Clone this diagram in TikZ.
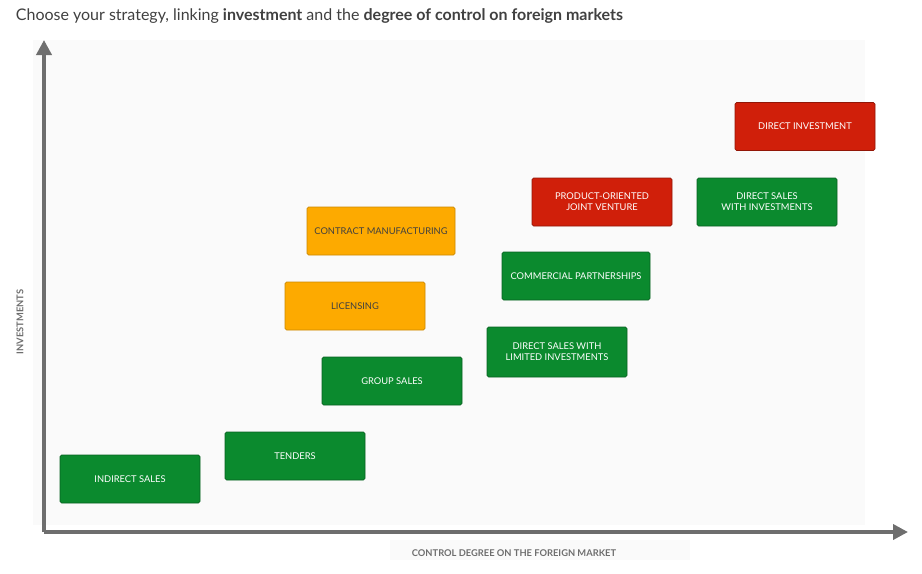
\documentclass[tikz,border=0pt]{standalone}
\usepackage{fontspec}
\setmainfont{Lato}
\usetikzlibrary{arrows.meta}
\definecolor{stgreen}{HTML}{0B8A2E}
\definecolor{stred}{HTML}{D01F0A}
\definecolor{storange}{HTML}{FDAA00}
\definecolor{staxis}{HTML}{6E6E6E}
\newlength{\pxu}
\setlength{\pxu}{0.6pt}
\tikzset{
  box/.style={minimum width=140\pxu, minimum height=48\pxu, inner sep=1pt, align=center,
    font=\fontsize{5.6}{6.6}\selectfont, text=white, rounded corners=1pt},
  green box/.style={box, fill=stgreen, draw=stgreen!70!black},
  red box/.style={box, fill=stred, draw=stred!70!black},
  orange box/.style={box, fill=storange, draw=storange!80!black, text=black!75},
  axis/.style={line width=2.2pt, draw=staxis, -{Triangle[length=9pt,width=9pt]}},
  axislabel/.style={font=\bfseries\fontsize{5.6}{6.6}\selectfont, text=staxis}
}
\begin{document}
\begin{tikzpicture}[x=\pxu, y=-\pxu]
\useasboundingbox (0,0) rectangle (922,573);
\fill[black!2] (33,40) rectangle (865,525);
\fill[black!2] (390,540) rectangle (690,560);
% title
\node[anchor=west, font=\fontsize{9.6}{11}\selectfont, text=black!75] (title) at (10,16)
  {Choose your strategy, linking \textbf{investment} and the \textbf{degree of control on foreign markets}};
% axes
\coordinate (origin) at (44,532);
\coordinate (ytop) at (44,40);
\coordinate (xend) at (908,532);
\draw[axis] (origin) -- (ytop);
\draw[axis] (origin) -- (xend);
\node[axislabel, rotate=90] (ylab) at (20,322) {INVESTMENTS};
\node[axislabel] (xlab) at (514,553) {CONTROL DEGREE ON THE FOREIGN MARKET};
% strategies
\node[red box] (direct) at (805,126.5) {DIRECT INVESTMENT};
\node[red box] (jointventure) at (602,202) {PRODUCT-ORIENTED\\JOINT VENTURE};
\node[green box] (salesinv) at (767,202) {DIRECT SALES\\WITH INVESTMENTS};
\node[orange box, minimum width=148\pxu] (contract) at (381,231) {CONTRACT MANUFACTURING};
\node[green box, minimum width=148\pxu] (commercial) at (576,276) {COMMERCIAL PARTNERSHIPS};
\node[orange box] (licensing) at (355,306) {LICENSING};
\node[green box, minimum height=50\pxu] (saleslimited) at (557,352) {DIRECT SALES WITH\\LIMITED INVESTMENTS};
\node[green box] (group) at (392,381) {GROUP SALES};
\node[green box] (tenders) at (295,456) {TENDERS};
\node[green box] (indirect) at (130,479) {INDIRECT SALES};
\end{tikzpicture}
\end{document}
